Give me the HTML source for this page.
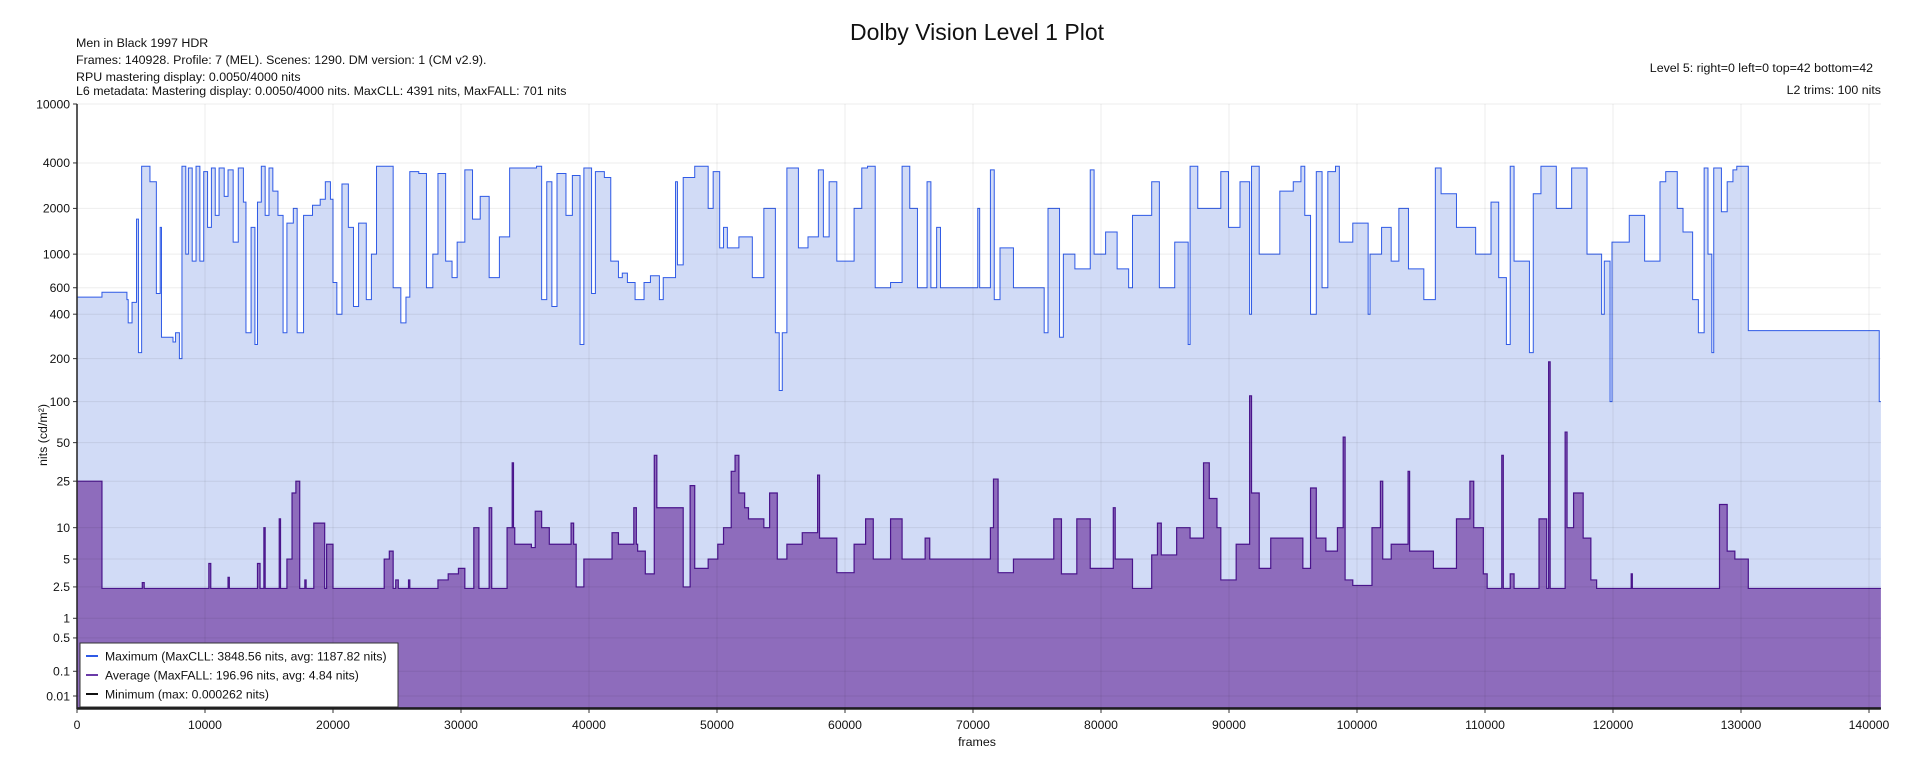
<!DOCTYPE html>
<html><head><meta charset="utf-8"><title>Dolby Vision Level 1 Plot</title>
<style>
html,body{margin:0;padding:0;background:#fff;}
svg{display:block;font-family:"Liberation Sans",Arial,sans-serif;}
</style></head>
<body>
<svg id="chart" width="1920" height="768" viewBox="0 0 1920 768" xmlns="http://www.w3.org/2000/svg">
<text x="977" y="40" font-size="23" text-anchor="middle" fill="#111">Dolby Vision Level 1 Plot</text>
<g font-size="12.4" fill="#111">
<text x="76" y="47">Men in Black 1997 HDR</text>
<text x="76" y="64">Frames: 140928. Profile: 7 (MEL). Scenes: 1290. DM version: 1 (CM v2.9).</text>
<text x="76" y="81">RPU mastering display: 0.0050/4000 nits</text>
<text x="76" y="95">L6 metadata: Mastering display: 0.0050/4000 nits. MaxCLL: 4391 nits, MaxFALL: 701 nits</text>
<text x="1873" y="72" text-anchor="end">Level 5: right=0 left=0 top=42 bottom=42</text>
<text x="1881" y="94" text-anchor="end">L2 trims: 100 nits</text>
</g>
<g id="plot"></g>
<text transform="translate(47,435) rotate(-90)" font-size="12.4" text-anchor="middle" fill="#111">nits (cd/m²)</text>
<text x="977" y="746" font-size="12.4" text-anchor="middle" fill="#111">frames</text>
<g>
<rect x="80" y="643" width="318" height="64" fill="#fff" stroke="#333" stroke-width="1"/>
<line x1="86" y1="656" x2="98" y2="656" stroke="#2f5ae6" stroke-width="2"/>
<text x="105" y="660.5" font-size="12.2" fill="#111">Maximum (MaxCLL: 3848.56 nits, avg: 1187.82 nits)</text>
<line x1="86" y1="675" x2="98" y2="675" stroke="#6a3aa8" stroke-width="2"/>
<text x="105" y="679.5" font-size="12.2" fill="#111">Average (MaxFALL: 196.96 nits, avg: 4.84 nits)</text>
<line x1="86" y1="694" x2="98" y2="694" stroke="#111" stroke-width="2"/>
<text x="105" y="698.5" font-size="12.2" fill="#111">Minimum (max: 0.000262 nits)</text>
</g>
</svg>
<script>
const totalFrames = 140928;
const xTicks = [0,10000,20000,30000,40000,50000,60000,70000,80000,90000,100000,110000,120000,130000,140000];
const yTicks = [0.01,0.1,0.5,1,2.5,5,10,25,50,100,200,400,600,1000,2000,4000,10000];
const yTickLabels = ["0.01","0.1","0.5","1","2.5","5","10","25","50","100","200","400","600","1000","2000","4000","10000"];
const maxFrames = [0,1950,3900,4000,4300,4650,4800,5050,5700,6200,6500,6600,7500,7700,8000,8200,8500,8700,9000,9300,9600,9900,10200,10500,10800,11100,11500,11800,12200,12600,13000,13200,13600,13900,14100,14400,14700,15000,15300,15700,16100,16400,16900,17200,17700,18400,19000,19400,19800,20000,20300,20700,21200,21600,22000,22600,23000,23400,24300,24700,25300,25700,26000,26700,27300,27800,28200,28800,29300,29700,30300,30900,31500,32200,33000,33800,35900,36300,36700,37100,37500,38200,38700,39300,39600,40200,40500,41200,41700,42300,42600,43000,43600,44300,44800,45500,45800,
46760,46910,47360,48260,49310,49700,50210,50510,50810,51710,52760,53660,54560,54860,55100,55460,56360,57110,57920,58310,58760,59360,60710,61310,61760,62360,63560,64460,65060,65660,66410,66710,67160,67460,70370,70520,71360,71660,72110,73160,75560,75860,76760,77060,77960,79160,79460,80360,81260,82160,82460,83960,84560,85760,86810,86960,87560,89360,89960,90860,91610,91760,92360,
93670,93970,95020,95620,95920,96370,96820,97270,97720,98320,98620,99670,100870,101020,101920,102670,103270,104020,105220,106120,106570,107770,109270,110470,111070,111670,111970,112270,113470,113770,114370,115570,116770,117970,119110,119320,119770,119920,121270,122470,123670,124120,125020,125470,126220,126670,127120,127420,127720,127870,128470,128920,129370,129670,130570,140800];
const maxValues = [520,560,500,350,480,1700,220,3800,3000,550,1500,280,260,300,200,3800,1000,3700,900,3800,900,3500,1500,3700,1800,3700,2400,3600,1200,3700,2200,300,1500,250,2200,3800,1800,3700,2600,1800,300,1600,2000,300,1800,2100,2300,3000,2300,650,400,2900,1500,450,1600,500,1000,3800,3800,600,350,520,3500,3400,600,1000,3400,900,700,1200,3600,1700,2400,700,1300,3700,3800,500,3000,450,3400,1800,3300,250,3700,550,3500,3200,900,700,750,650,500,650,720,500,700,
3000,850,3200,3800,2000,3500,1100,1500,1100,1300,700,2000,300,120,300,3700,1100,1300,3600,1300,3000,900,2000,3700,3800,600,650,3800,2000,600,3000,600,1500,600,2000,600,3600,500,1100,600,300,2000,280,1000,800,3600,1000,1400,800,600,1800,3000,600,1200,250,3800,2000,3500,1500,3000,400,3800,1000,
1000,2600,3000,3800,1800,400,3500,600,3500,3800,1200,1600,400,1000,1500,900,2000,800,500,3700,2500,1500,1000,2200,700,250,3800,900,220,2500,3800,2000,3700,1000,400,900,100,1200,1800,900,3000,3500,2000,1400,500,300,3700,1000,220,3700,1900,3000,3600,3800,310,100];
const avgFrames = [0,1950,5100,5250,10300,10450,11800,11900,14100,14300,14600,14700,15800,15900,16400,16800,17100,17400,17800,17900,18500,19350,19500,20000,24000,24400,24700,24900,25100,25900,26000,28200,29000,29800,30300,31000,31400,32200,32400,33600,34000,34100,34200,35500,35800,36300,36900,38600,38800,39000,39600,41800,42300,43500,43700,43800,44400,45100,45300,
46760,47360,47900,48260,49310,50060,50510,51110,51410,51710,52160,52460,53660,54110,54710,55460,56660,57860,58010,59360,60710,61610,62210,63560,64460,66260,66620,71360,71600,71960,73160,76310,76910,78110,79160,80960,81110,82460,83960,84410,84710,85910,86960,88010,88460,89060,89360,90560,91610,91760,92360,93260,
93670,95770,96370,96820,97570,98470,98920,99070,99670,101170,101830,102010,102670,103990,104110,105970,107770,108820,109120,109870,110170,111310,111430,111970,112270,114220,114820,114970,115090,116260,116410,116920,117670,118270,118720,121420,121510,128320,128920,129520,130570];
const avgValues = [25,2.4,2.8,2.4,4.5,2.4,3.2,2.4,4.5,2.4,10,2.4,12,2.4,5,20,25,2.4,3,2.4,11,2.4,7,2.4,5,6,2.4,3,2.4,3,2.4,3,3.5,4,2.4,10,2.4,15,2.4,10,35,10,7,6.5,14,10,7,11,7,2.5,5,9,7,15,7,6,3.5,40,15,
15,2.5,23,4,5,7,10,30,40,20,15,12,10,20,5,7,9,28,8,3.6,7,12,5,12,5,8,5,10,26,3.6,5,12,3.5,12,4,15,5,2.4,5.5,11,5.5,10,8,35,18,10,3,7,110,20,4,8,
8,4,22,8,6,10,55,3,2.6,10,25,5,7,30,6,4,12,25,10,3.5,2.4,40,2.4,3.5,2.4,12,2.4,190,2.4,60,10,20,8,3,2.4,3.5,2.4,16,6,5,2.4];
const minFrames = [0,140928];
const minValues = [0.0001,0.0001];

const NS = "http://www.w3.org/2000/svg";
const plot = document.getElementById('plot');
const X0 = 77, X1 = 1869, Y0 = 709, YTOP = 104;
function xScale(f){ return X0 + (f/140000)*(X1-X0); }
function pq(n){
  const m1=0.1593017578125,m2=78.84375,c1=0.8359375,c2=18.8515625,c3=18.6875;
  const y=Math.pow(Math.max(n,0)/10000,m1);
  return Math.pow((c1+c2*y)/(1+c3*y),m2);
}
function yScale(n){ return Y0 - (Y0-YTOP)*pq(n); }
function mk(tag, attrs){ const e=document.createElementNS(NS,tag); for(const k in attrs) e.setAttribute(k,attrs[k]); plot.appendChild(e); return e; }
function stepPath(frames, vals){
  let d = 'M'+xScale(frames[0]).toFixed(2)+','+Y0;
  for(let i=0;i<frames.length;i++){
    const xa = xScale(frames[i]);
    const xb = xScale(i+1<frames.length ? frames[i+1] : totalFrames);
    const y = yScale(vals[i]).toFixed(2);
    d += 'L'+xa.toFixed(2)+','+y+'L'+xb.toFixed(2)+','+y;
  }
  return d;
}
function linePath(frames, vals){
  let d='';
  for(let i=0;i<frames.length;i++){
    const xa = xScale(frames[i]);
    const xb = xScale(i+1<frames.length ? frames[i+1] : totalFrames);
    const y = yScale(vals[i]).toFixed(2);
    d += (i===0?'M':'L')+xa.toFixed(2)+','+y+'L'+xb.toFixed(2)+','+y;
  }
  return d;
}
const xEnd = xScale(totalFrames);
const maxArea = mk('path',{d:stepPath(maxFrames,maxValues)+'L'+xEnd.toFixed(2)+','+Y0+'Z',fill:'#d1dbf6',stroke:'none'});


const maxLine = mk('path',{d:linePath(maxFrames,maxValues),fill:'none',stroke:'#2f5ae6','stroke-width':1});


const avgArea = mk('path',{d:stepPath(avgFrames,avgValues)+'L'+xEnd.toFixed(2)+','+Y0+'Z',fill:'#8e6cbc',stroke:'none'});


const avgLine = mk('path',{d:linePath(avgFrames,avgValues),fill:'none',stroke:'#4a148c','stroke-width':1.2});


const minLine = mk('path',{d:linePath(minFrames,minValues),fill:'none',stroke:'#111','stroke-width':1.5});


for(let i=0;i<yTicks.length;i++){
  const y=yScale(yTicks[i]);
  const g=mk('line',{x1:X0,x2:xEnd,y1:y,y2:y,stroke:'rgba(0,0,0,0.07)','stroke-width':1});
  
  
  const t=mk('line',{x1:X0-4,x2:X0,y1:y,y2:y,stroke:'#333','stroke-width':1});
  
  
  const lb=mk('text',{x:X0-7,y:y+4.3,'font-size':12.2,'text-anchor':'end',fill:'#111'});
  lb.textContent=yTickLabels[i];
  
  
}
for(let i=0;i<xTicks.length;i++){
  const x=xScale(xTicks[i]);
  const g=mk('line',{x1:x,x2:x,y1:YTOP,y2:Y0,stroke:'rgba(0,0,0,0.07)','stroke-width':1});
  
  
  const t=mk('line',{x1:x,x2:x,y1:Y0,y2:Y0+4,stroke:'#333','stroke-width':1});
  
  
  const lb=mk('text',{x:x,y:Y0+20,'font-size':12.2,'text-anchor':'middle',fill:'#111'});
  lb.textContent=String(xTicks[i]);
  
  
}
const ax=mk('line',{x1:X0,x2:X0,y1:YTOP,y2:Y0,stroke:'#222','stroke-width':1.5});


const bx=mk('line',{x1:X0,x2:xEnd,y1:Y0,y2:Y0,stroke:'#222','stroke-width':1.5});


</script>
</body></html>
